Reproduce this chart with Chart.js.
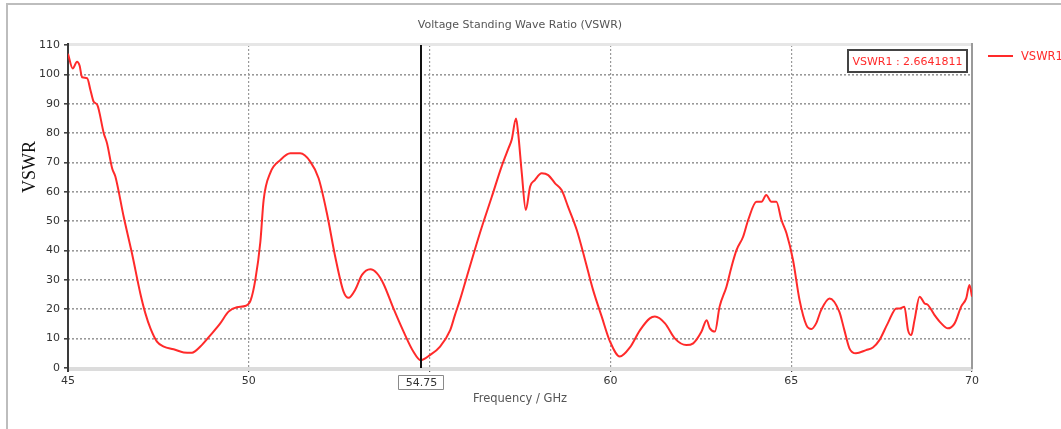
<!DOCTYPE html>
<html>
<head>
<meta charset="utf-8">
<script src="https://cdn.jsdelivr.net/npm/chart.js@4/dist/chart.umd.min.js"></script>
<style>
  html, body { margin: 0; padding: 0; background: #fff; }
  #wrap { width: 1061px; height: 429px; position: relative; }
</style>
</head>
<body>
<div id="wrap"><canvas id="c" width="1061" height="429"></canvas></div>
<script>
// ---- data ----
const chartTitle = "Voltage Standing Wave Ratio (VSWR)";
const xAxisTitle = "Frequency / GHz";
const yAxisTitle = "VSWR";
const seriesName = "VSWR1";
const markerFreq = 54.75;
const markerLabel = "VSWR1 : 2.6641811";

const freqs = [
  45.00, 45.13, 45.25, 45.32, 45.39, 45.53, 45.62, 45.71, 45.81, 45.99,
  46.08, 46.22, 46.31, 46.54, 46.77, 47.00, 47.14, 47.28, 47.46, 47.65,
  47.92, 48.20, 48.43, 48.66, 48.94, 49.21, 49.44, 49.67, 49.92, 50.05,
  50.18, 50.32, 50.41, 50.60, 50.87, 51.15, 51.42, 51.70, 51.93, 52.16,
  52.39, 52.62, 52.76, 52.94, 53.13, 53.36, 53.54, 53.72, 54.00, 54.28,
  54.55, 54.75, 55.01, 55.29, 55.57, 55.70, 55.84, 56.03, 56.39, 56.72,
  56.99, 57.18, 57.27, 57.39, 57.45, 57.55, 57.66, 57.78, 57.91, 58.10,
  58.28, 58.47, 58.65, 58.83, 59.07, 59.30, 59.52, 59.76, 59.99, 60.26,
  60.54, 60.82, 61.09, 61.23, 61.51, 61.78, 62.10, 62.29, 62.52, 62.66,
  62.75, 62.89, 63.02, 63.21, 63.35, 63.49, 63.67, 63.81, 64.04, 64.18,
  64.31, 64.45, 64.59, 64.73, 64.87, 65.05, 65.23, 65.42, 65.56, 65.69,
  65.83, 66.06, 66.33, 66.47, 66.61, 66.79, 67.07, 67.26, 67.44, 67.67,
  67.91, 68.00, 68.13, 68.23, 68.32, 68.41, 68.55, 68.69, 68.78, 68.96,
  69.15, 69.33, 69.52, 69.70, 69.84, 69.93, 70.00
];
const vswr = [
  107.0, 102.0, 104.3, 103.0, 99.0, 98.7, 94.7, 90.7, 89.6, 79.9,
  76.5, 68.0, 65.2, 51.5, 39.0, 25.4, 18.6, 13.5, 9.0, 7.3,
  6.4, 5.3, 5.2, 7.3, 11.2, 15.2, 19.2, 20.7, 21.2, 23.0,
  30.0, 43.0, 57.2, 66.6, 70.8, 73.1, 73.1, 70.3, 64.6, 52.7,
  37.9, 26.0, 23.9, 26.6, 31.7, 33.6, 32.3, 28.8, 20.3, 12.4,
  5.6, 2.66, 4.4, 7.3, 12.9, 18.0, 23.2, 31.1, 45.9, 58.3,
  68.6, 74.8, 77.7, 85.0, 79.9, 66.3, 53.8, 61.8, 64.0, 66.3,
  65.7, 62.9, 60.6, 54.9, 47.0, 36.8, 26.6, 17.5, 9.0, 3.9,
  7.0, 12.9, 16.9, 17.5, 15.2, 10.1, 7.8, 8.4, 12.4, 16.3,
  13.5, 12.4, 20.9, 27.7, 34.5, 40.2, 44.7, 50.4, 56.6, 56.6,
  58.9, 56.6, 56.6, 50.4, 45.9, 36.8, 23.2, 14.6, 13.3, 15.2,
  19.8, 23.7, 19.2, 12.9, 6.7, 5.0, 6.1, 7.0, 9.5, 15.2,
  20.3, 20.3, 20.9, 12.9, 11.2, 16.3, 24.3, 22.0, 21.5, 18.1,
  15.2, 13.5, 15.2, 20.9, 23.7, 28.3, 24.3
];
const xTicks = [45, 50, 55, 60, 65, 70];
const yTicks = [0, 10, 20, 30, 40, 50, 60, 70, 80, 90, 100, 110];

const points = freqs.map((f, i) => ({ x: f, y: vswr[i] }));

const FONT = "'DejaVu Sans', Verdana, sans-serif";
const RED = '#ff2a2a';

const decor = {
  id: 'decor',
  beforeDatasetsDraw(chart) {
    const { ctx, chartArea: a } = chart;
    ctx.save();
    ctx.fillStyle = '#e6e6e6';
    ctx.fillRect(a.left, a.top - 2, a.right - a.left, 3);
    ctx.fillStyle = '#dcdcdc';
    ctx.fillRect(a.left, a.bottom - 1, a.right - a.left, 4);
    ctx.fillStyle = '#9a9a9a';
    ctx.fillRect(a.right - 1, a.top - 2, 2, a.bottom - a.top + 3);
    ctx.fillStyle = '#3a3a3a';
    ctx.fillRect(a.left - 1, a.top - 2, 2, a.bottom - a.top + 6);
    ctx.restore();
  },
  afterDatasetsDraw(chart) {
    const { ctx, chartArea: a, scales } = chart;
    const xs = scales.x;
    ctx.save();
    // outer frame
    ctx.strokeStyle = '#bdbdbd';
    ctx.lineWidth = 2;
    ctx.beginPath();
    ctx.moveTo(7, 430); ctx.lineTo(7, 4); ctx.lineTo(1062, 4);
    ctx.stroke();

    // marker line
    const mx = Math.round(xs.getPixelForValue(markerFreq));
    ctx.fillStyle = '#111';
    ctx.fillRect(mx - 1, a.top, 2, a.bottom - a.top);

    // marker x label box
    ctx.font = '11px ' + FONT;
    ctx.strokeStyle = '#8a8a8a';
    ctx.lineWidth = 1;
    ctx.fillStyle = '#fff';
    ctx.beginPath();
    ctx.rect(mx - 22.5, 375.5, 45, 14);
    ctx.fill(); ctx.stroke();
    ctx.fillStyle = '#333';
    ctx.textAlign = 'center';
    ctx.textBaseline = 'middle';
    ctx.fillText(String(markerFreq), mx + 0.5, 383);

    // marker value box
    ctx.fillStyle = '#fff';
    ctx.fillRect(847, 49, 121, 24);
    ctx.strokeStyle = '#444';
    ctx.lineWidth = 2;
    ctx.strokeRect(848, 50, 119, 22);
    ctx.fillStyle = RED;
    ctx.font = '11px ' + FONT;
    ctx.fillText(markerLabel, 907.5, 62);

    // title
    ctx.fillStyle = '#555';
    ctx.font = '11px ' + FONT;
    ctx.fillText(chartTitle, 520, 25);

    // x axis title
    ctx.font = '11.5px ' + FONT;
    ctx.fillText(xAxisTitle, 520, 399);

    // y axis title
    ctx.save();
    ctx.translate(30, 167);
    ctx.rotate(-Math.PI / 2);
    ctx.fillStyle = '#111';
    ctx.font = "18px 'Liberation Serif', 'DejaVu Serif', serif";
    ctx.fillText(yAxisTitle, 0, 0);
    ctx.restore();

    // legend
    ctx.strokeStyle = RED;
    ctx.lineWidth = 2;
    ctx.beginPath();
    ctx.moveTo(988, 56); ctx.lineTo(1013, 56);
    ctx.stroke();
    ctx.fillStyle = RED;
    ctx.textAlign = 'left';
    ctx.font = '11.5px ' + FONT;
    ctx.fillText(seriesName, 1021, 57);
    ctx.restore();
  }
};

new Chart(document.getElementById('c'), {
  type: 'line',
  data: {
    datasets: [{
      label: seriesName,
      data: points,
      borderColor: RED,
      borderWidth: 2,
      pointRadius: 0,
      fill: false,
      cubicInterpolationMode: 'monotone'
    }]
  },
  options: {
    responsive: false,
    animation: false,
    events: [],
    layout: { padding: { left: 0, right: 89, top: 45, bottom: 0 } },
    plugins: {
      legend: { display: false },
      title: { display: false },
      tooltip: { enabled: false }
    },
    scales: {
      x: {
        type: 'linear',
        min: 45, max: 70,
        afterFit(s) { s.height = 61; },
        afterBuildTicks(s) { s.ticks = xTicks.map(v => ({ value: v })); },
        ticks: {
          font: { family: FONT, size: 11 },
          color: '#333',
          padding: 3,
          maxRotation: 0,
          callback: v => (v === 55 ? '' : String(v))
        },
        grid: {
          color: c => (c.tick && (c.tick.value === 45 || c.tick.value === 70)) ? 'rgba(0,0,0,0)' : '#999',
          lineWidth: 1.2,
          tickColor: '#444',
          tickLength: 4,
          drawTicks: true
        },
        border: { display: false, dash: [2, 2] }
      },
      y: {
        min: 0, max: 110,
        afterFit(s) { s.width = 68; },
        afterBuildTicks(s) { s.ticks = yTicks.map(v => ({ value: v })); },
        ticks: {
          font: { family: FONT, size: 11 },
          color: '#333',
          padding: 4
        },
        grid: {
          color: c => (c.tick && (c.tick.value === 0 || c.tick.value === 110)) ? 'rgba(0,0,0,0)' : '#999',
          lineWidth: 1.6,
          tickColor: '#444',
          tickLength: 4,
          drawTicks: true
        },
        border: { display: false, dash: [2, 2] }
      }
    }
  },
  plugins: [decor]
});
</script>
</body>
</html>
